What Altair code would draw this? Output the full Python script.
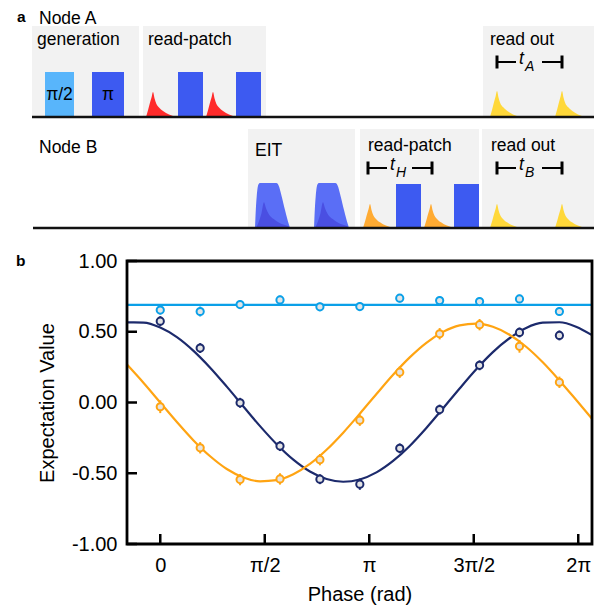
import math
import altair as alt
import pandas as pd

FONT = "Liberation Sans"

# ================= panel b : measured data =================
phase = [0.0, 0.6, 1.2, 1.8, 2.4, 3.0, 3.6, 4.2, 4.8, 5.4, 6.0]

cyan_vals = [0.653, 0.643, 0.692, 0.725, 0.676, 0.678, 0.737, 0.720, 0.713, 0.732, 0.643]
cyan_err = [0.030, 0.035, 0.030, 0.030, 0.030, 0.030, 0.030, 0.030, 0.030, 0.030, 0.030]

navy_vals = [0.575, 0.385, -0.002, -0.308, -0.542, -0.577, -0.324, -0.050, 0.263, 0.495, 0.474]
navy_err = [0.035, 0.035, 0.035, 0.035, 0.035, 0.040, 0.035, 0.035, 0.035, 0.035, 0.035]

orange_vals = [-0.030, -0.320, -0.545, -0.540, -0.404, -0.125, 0.214, 0.486, 0.550, 0.397, 0.143]
orange_err = [0.045, 0.040, 0.040, 0.040, 0.040, 0.040, 0.040, 0.040, 0.040, 0.045, 0.040]

# fitted curves
fit_phase = [-0.5, -0.25, 0.0, 0.25, 0.5, 0.75, 1.0, 1.25, 1.5, 1.75, 2.0, 2.25, 2.5, 2.75,
             3.0, 3.25, 3.5, 3.75, 4.0, 4.25, 4.5, 4.75, 5.0, 5.25, 5.5, 5.75, 6.0, 6.25, 6.49]
navy_fit = [0.566, 0.565, 0.530, 0.462, 0.365, 0.246, 0.112, -0.028, -0.167, -0.295, -0.404,
            -0.488, -0.541, -0.560, -0.544, -0.494, -0.413, -0.307, -0.180, -0.042, 0.099,
            0.235, 0.356, 0.454, 0.527, 0.564, 0.567, 0.536, 0.476]
orange_fit = [0.268, 0.138, 0.000, -0.138, -0.268, -0.380, -0.470, -0.530, -0.557, -0.549,
              -0.507, -0.434, -0.334, -0.213, -0.079, 0.060, 0.196, 0.319, 0.422, 0.499,
              0.545, 0.558, 0.535, 0.479, 0.394, 0.284, 0.156, 0.019, -0.115]
cyan_fit_phase = [-0.5, 6.49]
cyan_fit = [0.69, 0.69]

series_names = ["cyan", "navy", "orange"]
series_colors = ["#0ba0e8", "#1c2a6c", "#ffa412"]

x_ticks = [0.0, math.pi / 2, math.pi, 3 * math.pi / 2, 2 * math.pi]
x_tick_labels = ["0", "π/2", "π", "3π/2", "2π"]
y_ticks = [-1.0, -0.5, 0.0, 0.5, 1.0]
x_domain = [-0.5, 6.49]
y_domain = [-1.0, 1.0]

# ================= panel a : pulse-sequence schematic =================
# time axis (a.u.) and vertical level above the plot (a.u.)
row_names = ["Node A", "Node B"]
row_base = [144, 33]
row_t0 = [32, 33]
row_t1 = [594, 594]

box_row = [0, 0, 0, 1, 1, 1]
box_t0 = [32, 143, 483, 248, 360, 482]
box_t1 = [139, 266, 594, 355, 479, 594]
box_h = [91, 91, 91, 99, 99, 99]

blk_row = [0, 0, 0, 0, 1, 1]
blk_t0 = [45, 92, 178, 236, 396, 454]
blk_t1 = [74, 124, 203, 261, 421, 479]
blk_h = [45, 45, 45, 45, 44, 44]
blk_col = ["#58b5fb", "#3d5af1", "#3d5af1", "#3d5af1", "#3d5af1", "#3d5af1"]
blk_lab = ["π/2", "π", "", "", "", ""]

dp_row = [0, 0, 0, 0, 1, 1, 1, 1]
dp_t = [153, 213, 497, 562, 370, 431, 497, 562]
dp_h = [25, 25, 26, 26, 24, 24, 24, 24]
dp_col = ["#ff2b2b", "#ff2b2b", "#ffd83a", "#ffd83a", "#ffab33", "#ffab33", "#ffd83a", "#ffd83a"]
dp_dx = [-7, -5, -3.3, -1.5, 0, 1.5, 3.3, 6, 10, 16, 24]
dp_frac = [0, 0.27, 0.53, 0.78, 1.0, 0.75, 0.53, 0.38, 0.24, 0.10, 0]

eit_row = [1, 1]
eit_t = [255, 314]
eit_h = [45, 45]
eit_dx = [0, 0.8, 1.7, 3.3, 5, 21.5, 23.5, 26.7, 30, 34, 35]
eit_frac = [0, 0.4, 0.7, 0.96, 1.0, 1.0, 0.95, 0.7, 0.4, 0.07, 0]
eit_in_dx = [1, 4, 6.5, 9, 11, 13.3, 20, 26.7, 33.3, 35]
eit_in_frac = [0, 0.15, 0.33, 0.57, 0.44, 0.33, 0.18, 0.09, 0.04, 0]

br_t0 = [497, 368, 497]
br_t1 = [562, 432, 562]
br_level = [199, 93, 93]
br_sub = ["A", "H", "B"]

txt = ["Node A", "generation", "read-patch", "read out", "Node B", "EIT", "read-patch", "read out"]
txt_t = [39, 37, 148, 490, 39, 255, 368, 491]
txt_v = [237, 216.5, 216.5, 216.5, 108, 105, 110, 110]

panel_lab = ["a", "b"]
panel_t = [17, 16]
panel_v = [239, -5]

# ---------- styles ----------
BOX_FILL = "#f2f2f2"
LABEL_SIZE = 17.5
SUB_SIZE = 14
W, H = 465, 283

sx = alt.Scale(domain=[0, 600], range=[-127, 473], nice=False, zero=False)
sy = alt.Scale(domain=[0, 261], range=[0, -261], nice=False, zero=False)

def X(f):
    return alt.X(f, type="quantitative", scale=sx, axis=None)

def Y(f):
    return alt.Y(f, type="quantitative", scale=sy, axis=None)

df_box = pd.DataFrame({
    "t0": box_t0, "t1": box_t1,
    "v0": [row_base[r] for r in box_row],
    "v1": [row_base[r] + h for r, h in zip(box_row, box_h)],
})
boxes = alt.Chart(df_box).mark_rect(fill=BOX_FILL).encode(
    x=X("t0"), x2="t1", y=Y("v0"), y2="v1")

df_blk = pd.DataFrame({
    "t0": blk_t0, "t1": blk_t1,
    "v0": [row_base[r] for r in blk_row],
    "v1": [row_base[r] + h for r, h in zip(blk_row, blk_h)],
    "col": blk_col,
    "tc": [(a + b) / 2 for a, b in zip(blk_t0, blk_t1)],
    "vt": [row_base[r] + 17 for r in blk_row],
    "lab": blk_lab,
})
blocks = alt.Chart(df_blk).mark_rect().encode(
    x=X("t0"), x2="t1", y=Y("v0"), y2="v1", color=alt.Color("col:N", scale=None))
blk_text = alt.Chart(df_blk).mark_text(font=FONT, fontSize=LABEL_SIZE, color="black",
                                        align="center", baseline="alphabetic").encode(
    x=X("tc"), y=Y("vt"), text="lab:N")

rows = []
for i, (r, t, h, c) in enumerate(zip(dp_row, dp_t, dp_h, dp_col)):
    for dx, fr in zip(dp_dx, dp_frac):
        rows.append({"pid": i, "t": t + dx, "v": row_base[r] + h * fr, "v0": row_base[r], "col": c})
df_dp = pd.DataFrame(rows)
decays = alt.Chart(df_dp).mark_area(interpolate="monotone").encode(
    x=X("t"), y=Y("v"), y2="v0", color=alt.Color("col:N", scale=None), detail="pid:N")

rows_o, rows_i = [], []
for i, (r, t, h) in enumerate(zip(eit_row, eit_t, eit_h)):
    for dx, fr in zip(eit_dx, eit_frac):
        rows_o.append({"pid": i, "t": t + dx, "v": row_base[r] + h * fr, "v0": row_base[r]})
    for dx, fr in zip(eit_in_dx, eit_in_frac):
        rows_i.append({"pid": i, "t": t + dx, "v": row_base[r] + h * fr, "v0": row_base[r]})
eit_outer = alt.Chart(pd.DataFrame(rows_o)).mark_area(interpolate="monotone", color="#5a6ef6").encode(
    x=X("t"), y=Y("v"), y2="v0", detail="pid:N")
eit_inner = alt.Chart(pd.DataFrame(rows_i)).mark_area(interpolate="monotone", color="#4a4fe2").encode(
    x=X("t"), y=Y("v"), y2="v0", detail="pid:N")

df_base = pd.DataFrame({"t0": row_t0, "t1": row_t1, "v": row_base})
baselines = alt.Chart(df_base).mark_rule(color="#111111", strokeWidth=2.6).encode(
    x=X("t0"), x2="t1", y=Y("v"))

seg = []
for a, b, lv in zip(br_t0, br_t1, br_level):
    seg.append({"t0": a, "t1": a + 19, "v0": lv, "v1": lv})
    seg.append({"t0": b - 20, "t1": b, "v0": lv, "v1": lv})
df_seg = pd.DataFrame(seg)
br_h = alt.Chart(df_seg).mark_rule(color="black", strokeWidth=2).encode(
    x=X("t0"), x2="t1", y=Y("v0"))
bar = []
for a, b, lv in zip(br_t0, br_t1, br_level):
    bar.append({"t": a, "v0": lv - 6.5, "v1": lv + 6.5})
    bar.append({"t": b, "v0": lv - 6.5, "v1": lv + 6.5})
br_v = alt.Chart(pd.DataFrame(bar)).mark_rule(color="black", strokeWidth=3).encode(
    x=X("t"), y=Y("v0"), y2="v1")
df_t = pd.DataFrame({"t": [a + 22 for a in br_t0], "v": [lv - 1.5 for lv in br_level],
                     "s": ["t"] * len(br_t0)})
br_t = alt.Chart(df_t).mark_text(font=FONT, fontSize=LABEL_SIZE, fontStyle="italic", color="black",
                                  align="left", baseline="alphabetic").encode(x=X("t"), y=Y("v"), text="s:N")
df_sub = pd.DataFrame({"t": [a + 28 for a in br_t0], "v": [lv - 9 for lv in br_level], "s": br_sub})
br_s = alt.Chart(df_sub).mark_text(font=FONT, fontSize=SUB_SIZE, fontStyle="italic", color="black",
                                    align="left", baseline="alphabetic").encode(x=X("t"), y=Y("v"), text="s:N")

df_txt = pd.DataFrame({"t": txt_t, "v": txt_v, "s": txt})
labels = alt.Chart(df_txt).mark_text(font=FONT, fontSize=LABEL_SIZE, color="black",
                                      align="left", baseline="alphabetic").encode(x=X("t"), y=Y("v"), text="s:N")
df_pl = pd.DataFrame({"t": panel_t, "v": panel_v, "s": panel_lab})
plabels = alt.Chart(df_pl).mark_text(font=FONT, fontSize=15.5, fontWeight="bold", color="black",
                                      align="left", baseline="alphabetic").encode(x=X("t"), y=Y("v"), text="s:N")

schem = alt.layer(boxes, blocks, decays, eit_outer, eit_inner, baselines, blk_text,
                  br_h, br_v, br_t, br_s, labels, plabels)

# ================= panel b : chart =================
xs = alt.Scale(domain=x_domain, nice=False, zero=False)
ys = alt.Scale(domain=y_domain, nice=False, zero=False)

expr = "''"
for v, lab in reversed(list(zip(x_ticks, x_tick_labels))):
    expr = f"abs(datum.value - {v}) < 0.01 ? '{lab}' : " + expr

x_axis = alt.Axis(orient="bottom", values=x_ticks, labelExpr=expr, title="Phase (rad)",
                  ticks=False, tickSize=0, domain=False, grid=False, labelFlush=False,
                  labelFont=FONT, labelFontSize=20, labelColor="black", labelPadding=11,
                  titleFont=FONT, titleFontSize=20, titleFontWeight="normal", titleColor="black",
                  titlePadding=9)
y_axis = alt.Axis(orient="left", values=y_ticks, labelExpr="replace(format(datum.value, '.2f'), '−', '-')",
                  title="Expectation Value", ticks=False, tickSize=0, domain=False, grid=False,
                  labelFlush=False,
                  labelFont=FONT, labelFontSize=20, labelColor="black", labelPadding=10,
                  titleFont=FONT, titleFontSize=20, titleFontWeight="normal", titleColor="black",
                  titlePadding=14)

def PX(f):
    return alt.X(f, type="quantitative", scale=xs, axis=x_axis)

def PY(f):
    return alt.Y(f, type="quantitative", scale=ys, axis=y_axis)

fits = []
for name, col, fp, fv in zip(series_names, series_colors,
                             [cyan_fit_phase, fit_phase, fit_phase],
                             [cyan_fit, navy_fit, orange_fit]):
    for p, v in zip(fp, fv):
        fits.append({"px": p, "py": v, "s": name, "col": col})
df_fit = pd.DataFrame(fits)

pts = []
for name, col, vals, errs in zip(series_names, series_colors,
                                 [cyan_vals, navy_vals, orange_vals],
                                 [cyan_err, navy_err, orange_err]):
    for p, v, e in zip(phase, vals, errs):
        pts.append({"px": p, "py": v, "lo": v - e, "hi": v + e, "s": name, "col": col})
df_pts = pd.DataFrame(pts)

fit_lines = alt.Chart(df_fit).mark_line(strokeWidth=2.2, interpolate="monotone").encode(
    x=PX("px"), y=PY("py"), color=alt.Color("col:N", scale=None), detail="s:N")
ebars = alt.Chart(df_pts).mark_rule(strokeWidth=2).encode(
    x=PX("px"), y=PY("lo"), y2="hi", color=alt.Color("col:N", scale=None))
points = alt.Chart(df_pts).mark_point(shape="circle", size=52, fill="#e4e4e4", strokeWidth=2,
                                      opacity=1, filled=False).encode(
    x=PX("px"), y=PY("py"), stroke=alt.Stroke("col:N", scale=None))

df_frame = pd.DataFrame({"px": [x_domain[0]], "px2": [x_domain[1]], "py": [y_domain[0]], "py2": [y_domain[1]]})
frame = alt.Chart(df_frame).mark_rect(filled=False, stroke="black", strokeWidth=2.8).encode(
    x=PX("px"), x2="px2", y=PY("py"), y2="py2")

df_xt = pd.DataFrame({"px": x_ticks})
xticks = alt.Chart(df_xt).mark_rule(color="black", strokeWidth=2.5).encode(
    x=PX("px"), y=alt.value(H), y2=alt.value(H - 10))
df_yt = pd.DataFrame({"py": y_ticks})
yticks = alt.Chart(df_yt).mark_rule(color="black", strokeWidth=2.5).encode(
    y=PY("py"), x=alt.value(0), x2=alt.value(10))

plot = alt.layer(fit_lines, ebars, points, frame, xticks, yticks)

chart = alt.layer(schem, plot).resolve_scale(x="independent", y="independent").properties(
    width=W, height=H,
    padding={"left": 119, "top": 253, "right": 16, "bottom": 62},
    autosize=alt.AutoSizeParams(type="none"),
).configure_view(strokeWidth=0)

chart.save("out.html", embed_options={"renderer": "svg", "actions": False})
